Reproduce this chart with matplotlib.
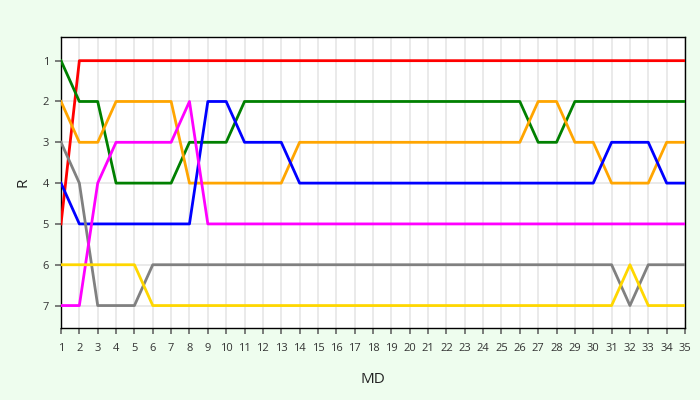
import matplotlib
matplotlib.use("Agg")
import matplotlib.pyplot as plt

md = list(range(1, 36))
red =     [5] + [1]*34
green =   [1, 2, 2, 4, 4, 4, 4, 3, 3, 3] + [2]*15 + [2, 3, 3] + [2]*7
orange =  [2, 3, 3, 2, 2, 2, 2] + [4]*6 + [3]*13 + [2, 2, 3, 3, 4, 4, 4, 3, 3]
blue =    [4] + [5]*7 + [2, 2, 3, 3, 3] + [4]*17 + [3, 3, 3, 4, 4]
gray =    [3, 4, 7, 7, 7] + [6]*26 + [7, 6, 6, 6]
magenta = [7, 7, 4, 3, 3, 3, 3, 2] + [5]*27
gold =    [6]*5 + [7]*26 + [6, 7, 7, 7]

series = [(red, "red"), (green, "green"), (orange, "orange"), (blue, "blue"),
          (gray, "gray"), (magenta, "magenta"), (gold, "gold")]

plt.rcParams['font.family'] = ['Open Sans', 'DejaVu Sans']
fig = plt.figure(figsize=(7, 4), dpi=100, facecolor="#eefdee")
ax = fig.add_axes([61/700, 1-328/400, (685-61)/700, (328-37)/400])
ax.set_facecolor("white")
for vals, c in series:
    ax.plot(md, vals, color=c, lw=2.0, zorder=3)

ax.set_xlim(1, 35)
ax.set_ylim(7.55, 0.42)
ax.set_xticks(md)
ax.set_yticks(range(1, 8))
ax.grid(True, color="#e6e6e6", lw=1.2, zorder=0)
ax.tick_params(labelsize=8, colors="#333333", length=4.5, width=1.2, color="#666666")
ax.tick_params(axis="x", pad=6)
ax.tick_params(axis="y", pad=4)
for s in ax.spines.values():
    s.set_color("black")
    s.set_linewidth(1.0)
ax.set_xlabel("MD", fontsize=11, labelpad=13, color="#222222")
ax.set_ylabel("R", fontsize=11, labelpad=9, color="#222222")
fig.savefig("out.png", dpi=100, facecolor=fig.get_facecolor())
